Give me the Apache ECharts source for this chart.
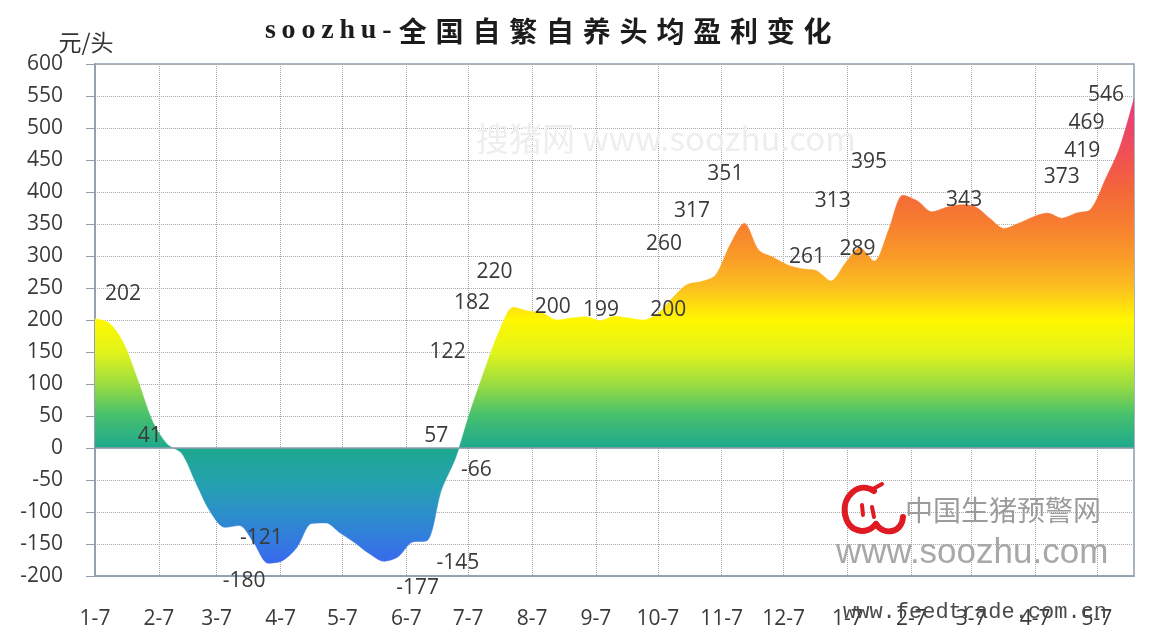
<!DOCTYPE html>
<html>
<head>
<meta charset="utf-8">
<title>soozhu-全国自繁自养头均盈利变化</title>
<script src="https://cdn.jsdelivr.net/npm/echarts@6/dist/echarts.min.js"></script>
<style>
  html, body { margin: 0; padding: 0; background: #ffffff; }
  #chart { width: 1150px; height: 631px; }
</style>
</head>
<body>
<div id="chart"></div>
<script>
// Weekly survey dates (Wednesdays)
const weekDates = [
  '2015-01-07','2015-01-14','2015-01-21','2015-01-28',
  '2015-02-04','2015-02-11','2015-02-18','2015-02-25',
  '2015-03-04','2015-03-11','2015-03-18','2015-03-25',
  '2015-04-01','2015-04-08','2015-04-15','2015-04-22','2015-04-29',
  '2015-05-06','2015-05-13','2015-05-20','2015-05-27',
  '2015-06-03','2015-06-10','2015-06-17','2015-06-24',
  '2015-07-01','2015-07-08','2015-07-15','2015-07-22','2015-07-29',
  '2015-08-05','2015-08-12','2015-08-19','2015-08-26',
  '2015-09-02','2015-09-09','2015-09-16','2015-09-23','2015-09-30',
  '2015-10-07','2015-10-14','2015-10-21','2015-10-28',
  '2015-11-04','2015-11-11','2015-11-18','2015-11-25',
  '2015-12-02','2015-12-09','2015-12-16','2015-12-23','2015-12-30',
  '2016-01-06','2016-01-13','2016-01-20','2016-01-27',
  '2016-02-03','2016-02-10','2016-02-17','2016-02-24',
  '2016-03-02','2016-03-09','2016-03-16','2016-03-23','2016-03-30',
  '2016-04-06','2016-04-13','2016-04-20','2016-04-27',
  '2016-05-04','2016-05-11','2016-05-18','2016-05-25'
];

// Average profit per head, self-bred hogs (元/头)
const profit = [
  202, 195, 163, 104,
  41, 6, -8, -55,
  -100, -124, -121, -148,
  -180, -176, -155, -118, -117,
  -133, -148, -165, -177,
  -170, -147, -145, -66,
  -15, 57, 122, 182, 220,
  214, 211, 200, 203,
  205, 199, 206, 203, 200,
  210, 234, 255, 260,
  270, 317, 351, 309,
  298, 286, 280, 277, 261,
  289, 313, 292, 341,
  395, 386, 369, 376,
  380, 377, 359, 343, 351,
  361, 367, 359, 367,
  373, 419, 469, 546
];

// Y-axis range and step
const yMin = -200;
const yMax = 600;
const yStep = 50;

// Fill colours from -200 up to 600, one per 50
const fillColors = [
  '#3b5ef4', '#3478e2', '#2b90c8', '#23a2ac', '#1fa88e', '#45c06e',
  '#9cdc40', '#e2f41a', '#fff700', '#fcc020', '#f99a28', '#f77e30',
  '#f46838', '#f15350', '#ec4468', '#e63a80', '#e03090'
];

// Which weeks carry a value label, and where the label sits relative to the point
const labelShift = {
  0: [28, -25], 4: [-3, 14], 10: [22, 13], 12: [-24, 18], 20: [34, 27],
  23: [31, 22], 24: [35, -20], 26: [-34, 24], 27: [-37, -18], 28: [-27, -29],
  29: [-19, -35], 32: [-4, -13], 35: [1, -11], 38: [25, -10], 42: [-37, -38],
  44: [-38, -34], 45: [-19, -49], 51: [-24, -24], 52: [12, -14], 53: [-27, -47],
  56: [-34, -33], 63: [-40, -28], 69: [-29, -32], 70: [-23, -29], 71: [-33, -25],
  72: [-28, -4]
};

const TITLE = 'soozhu-全国自繁自养头均盈利变化';

// Daily category axis so month gridlines fall on the 7th of each month
function pad2(n) { return (n < 10 ? '0' : '') + n; }
function isoDay(t) {
  const d = new Date(t);
  return d.getUTCFullYear() + '-' + pad2(d.getUTCMonth() + 1) + '-' + pad2(d.getUTCDate());
}
const dayAxis = [];
{
  const start = Date.parse(weekDates[0] + 'T00:00:00Z');
  const end = Date.parse(weekDates[weekDates.length - 1] + 'T00:00:00Z');
  for (let t = start; t <= end; t += 86400000) dayAxis.push(isoDay(t));
}
const onSeventh = (idx, val) => val.slice(8) === '07';
const monthDay = (val) => +val.slice(5, 7) + '-' + +val.slice(8);

const seriesData = weekDates.map((d, i) => {
  const shift = labelShift[i];
  if (!shift) return [d, profit[i]];
  return { value: [d, profit[i]], label: { show: true, offset: shift } };
});

// Title set as rich text so each glyph gets a little tracking
const titleRich = TITLE.split('')
  .map(ch => (/[\u4e00-\u9fff]/.test(ch) ? '{k|' : '{l|') + ch + '}')
  .join('');

const numFont = 'Open Sans';
const gridColor = '#a9a9a9';
const frameColor = '#8e9cab';
const logoRed = '#e01a22';

function logoCurve(x1, y1, cpx1, cpy1, cpx2, cpy2, x2, y2, w) {
  return {
    type: 'bezierCurve', z: 10, silent: true,
    shape: { x1, y1, cpx1, cpy1, cpx2, cpy2, x2, y2 },
    style: { stroke: logoRed, lineWidth: w, fill: null, lineCap: 'round' }
  };
}
function logoStroke(x1, y1, x2, y2, w) {
  return {
    type: 'line', z: 10, silent: true,
    shape: { x1, y1, x2, y2 },
    style: { stroke: logoRed, lineWidth: w, lineCap: 'round' }
  };
}
function plainText(text, x, y, family, size, fill, z) {
  return {
    type: 'text', x, y, z, silent: true,
    style: {
      text, fontFamily: family, fontSize: size, fill,
      align: 'left', verticalAlign: 'middle',
      textAlign: 'left', textVerticalAlign: 'middle'
    }
  };
}

const chart = echarts.init(document.getElementById('chart'), null, { renderer: 'canvas' });
chart.setOption({
  animation: false,
  backgroundColor: '#ffffff',
  title: {
    text: titleRich,
    left: 262,
    top: 17,
    padding: 0,
    textStyle: {
      rich: {
        l: {
          fontFamily: 'Liberation Serif',
          fontSize: 28,
          fontWeight: 'bold',
          color: '#1c1c1c',
          padding: [0, 2.9, 0, 2.9]
        },
        k: {
          fontFamily: 'Noto Sans CJK SC',
          fontSize: 28,
          fontWeight: 'bold',
          color: '#1c1c1c',
          padding: [0, 4.4, 0, 4.4]
        }
      }
    }
  },
  grid: {
    left: 95, right: 16, top: 64, bottom: 55,
    show: true,
    borderColor: frameColor,
    borderWidth: 1.5
  },
  visualMap: {
    show: false,
    type: 'continuous',
    seriesIndex: 0,
    dimension: 1,
    min: yMin,
    max: yMax,
    inRange: { color: fillColors }
  },
  xAxis: {
    type: 'category',
    data: dayAxis,
    boundaryGap: false,
    axisLine: { onZero: false, lineStyle: { color: frameColor, width: 1.5 } },
    axisTick: { show: false },
    axisLabel: {
      interval: onSeventh,
      formatter: monthDay,
      margin: 33,
      color: '#3a3a3a',
      fontFamily: numFont,
      fontSize: 21
    },
    splitLine: {
      show: true,
      interval: onSeventh,
      lineStyle: { color: gridColor, type: 'dotted', width: 1 }
    }
  },
  yAxis: {
    type: 'value',
    min: yMin,
    max: yMax,
    interval: yStep,
    name: '元/头',
    nameLocation: 'end',
    nameGap: 7,
    nameTextStyle: {
      fontFamily: 'Noto Sans CJK SC',
      fontSize: 23,
      color: '#333333',
      align: 'center',
      padding: [0, 18, 0, 0]
    },
    axisLine: { show: true, lineStyle: { color: frameColor, width: 1.5 } },
    axisTick: { show: true, length: 9, lineStyle: { color: frameColor } },
    axisLabel: {
      margin: 32,
      color: '#3a3a3a',
      fontFamily: numFont,
      fontSize: 21
    },
    splitLine: { lineStyle: { color: gridColor, type: 'dotted', width: 1 } }
  },
  series: [{
    type: 'line',
    data: seriesData,
    smooth: 0.3,
    symbol: 'circle',
    symbolSize: 0,
    showSymbol: true,
    showAllSymbol: true,
    lineStyle: { width: 0.5 },
    areaStyle: { opacity: 1 },
    label: {
      show: false,
      position: 'inside',
      formatter: p => p.value[1],
      color: '#3a3a3a',
      fontFamily: numFont,
      fontSize: 21
    },
    emphasis: { disabled: true },
    markLine: {
      silent: true,
      symbol: ['none', 'none'],
      label: { show: false },
      lineStyle: { color: frameColor, type: 'solid', width: 1.5 },
      data: [{ yAxis: 0 }]
    },
    z: 3
  }],
  graphic: [
    plainText('搜猪网 www.soozhu.com', 476, 138, 'Noto Sans CJK SC', 33, '#eeeeee', 1),
    logoCurve(874, 491, 859, 481, 842, 496, 845, 514, 6),
    logoCurve(845, 514, 848, 532, 866, 536, 876, 524, 6),
    logoCurve(876, 524, 884, 536, 902, 533, 903, 517, 6),
    logoStroke(862, 505, 863, 515, 4),
    logoStroke(872, 507, 874, 517, 4),
    logoStroke(873, 489, 882, 484, 4),
    plainText('中国生猪预警网', 905, 510, 'Noto Sans CJK SC', 28, '#9c9c9c', 10),
    plainText('www.soozhu.com', 836, 553, 'Liberation Sans', 35, '#a8a8a8', 10),
    plainText('www.feedtrade.com.cn', 843, 612, 'Liberation Mono', 22, '#4a4a4a', 10)
  ]
});
</script>
</body>
</html>
